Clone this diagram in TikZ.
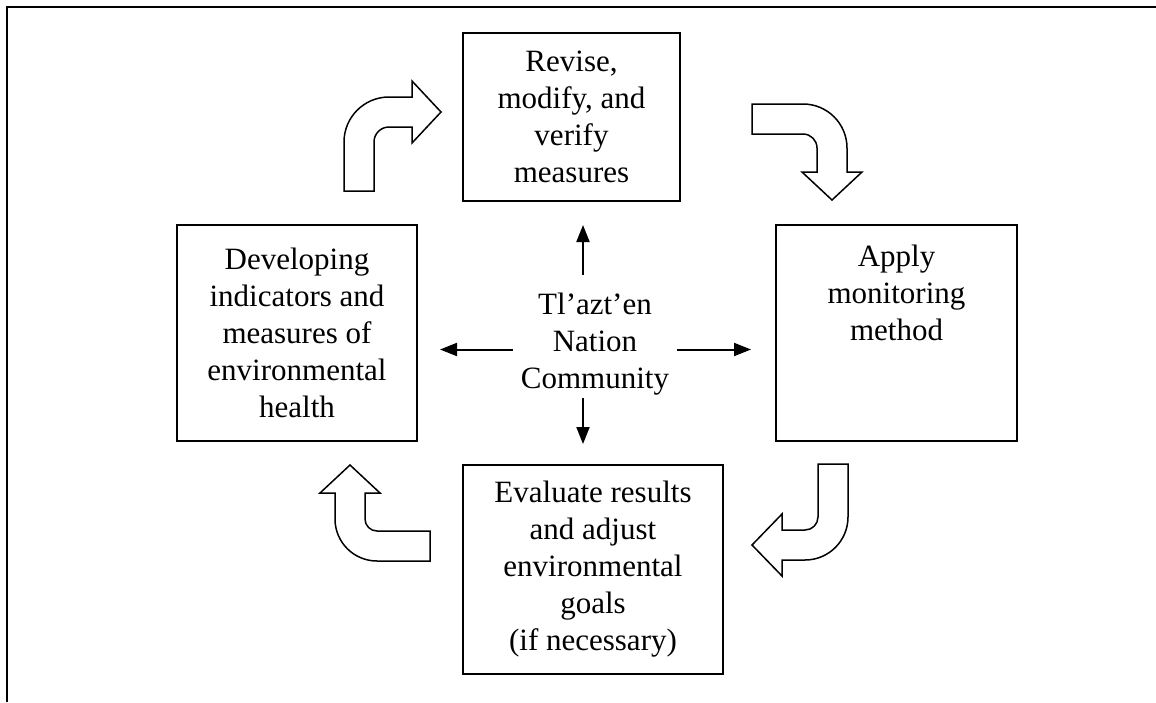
\documentclass[tikz,border=0pt]{standalone}
\usepackage{fontspec}
\setmainfont{Liberation Serif}
\usetikzlibrary{arrows.meta}
\tikzstyle{every stage} = [draw, line width=2pt, align=center, inner sep=0pt]
\tikzstyle{stage} = [every stage, font=\fontsize{31}{37}\selectfont]
\tikzstyle{link} = [-{Triangle[length=17pt,width=13pt]}, line width=2pt]
\tikzstyle{turnarrow} = [draw, line width=1.5pt, fill=white]

\begin{document}
\begin{tikzpicture}[x=1pt,y=-1pt]
                    \useasboundingbox (0,0) rectangle (1156,702);
                    \draw[line width=2pt] (7,702) -- (7,7) -- (1156,7);

                    \node[stage, minimum width=217pt, minimum height=168pt] (revise) at (571.5,117)
                        {Revise,\\modify, and\\verify\\measures};
                    \node[stage, minimum width=240pt, minimum height=216pt] (develop) at (297,333)
                        {Developing\\indicators and\\measures of\\environmental\\health};
                    \node[stage, minimum width=241pt, minimum height=216pt] (apply) at (896.5,333)
                        {\parbox[c][176pt][t]{200pt}{\centering Apply\\monitoring\\method}};
                    \node[stage, minimum width=260pt, minimum height=209pt] (evaluate) at (593,569.5)
                        {Evaluate results\\and adjust\\environmental\\goals\\(if necessary)};

                    \node[font=\fontsize{31}{37}\selectfont, align=center, inner xsep=8pt, inner ysep=3pt]
                        (community) at (595,344) {Tl’azt’en\\Nation\\Community};

                    \coordinate (upEnd) at (583,225);
                    \coordinate (downEnd) at (583,444);
                    \coordinate (leftEnd) at (440,349.5);
                    \coordinate (rightEnd) at (751,349.5);
                    \draw[link, shorten <=15pt] (community.north -| upEnd) -- (upEnd);
                    \draw[link] (community.south -| downEnd) -- (downEnd);
                    \draw[link] (community.west |- leftEnd) -- (leftEnd);
                    \draw[link] (community.east |- rightEnd) -- (rightEnd);

                    \draw[turnarrow] (344,191) -- (344,142) arc[start angle=180, end angle=270, radius=45]
                        -- (412,97) -- (412,81) -- (441,112) -- (412,143) -- (412,127) -- (389,127)
                        arc[start angle=270, end angle=180, radius=15] -- (374,191) -- cycle;
                    \draw[turnarrow] (752,104) -- (803,104) arc[start angle=270, end angle=360, radius=44]
                        -- (847,172) -- (862,172) -- (832,200) -- (802,172) -- (817,172) -- (817,148)
                        arc[start angle=0, end angle=-90, radius=14] -- (752,134) -- cycle;
                    \draw[turnarrow] (818,464) -- (848,464) -- (848,517) arc[start angle=0, end angle=90, radius=43]
                        -- (782,560) -- (782,576) -- (752,545) -- (782,514) -- (782,530) -- (805,530)
                        arc[start angle=90, end angle=0, radius=13] -- cycle;
                    \draw[turnarrow] (430,561) -- (377,561) arc[start angle=90, end angle=180, radius=42]
                        -- (335,493) -- (320,493) -- (350,465) -- (380,493) -- (365,493) -- (365,519)
                        arc[start angle=180, end angle=90, radius=12] -- (430,531) -- cycle;
                \end{tikzpicture}
\end{document}
